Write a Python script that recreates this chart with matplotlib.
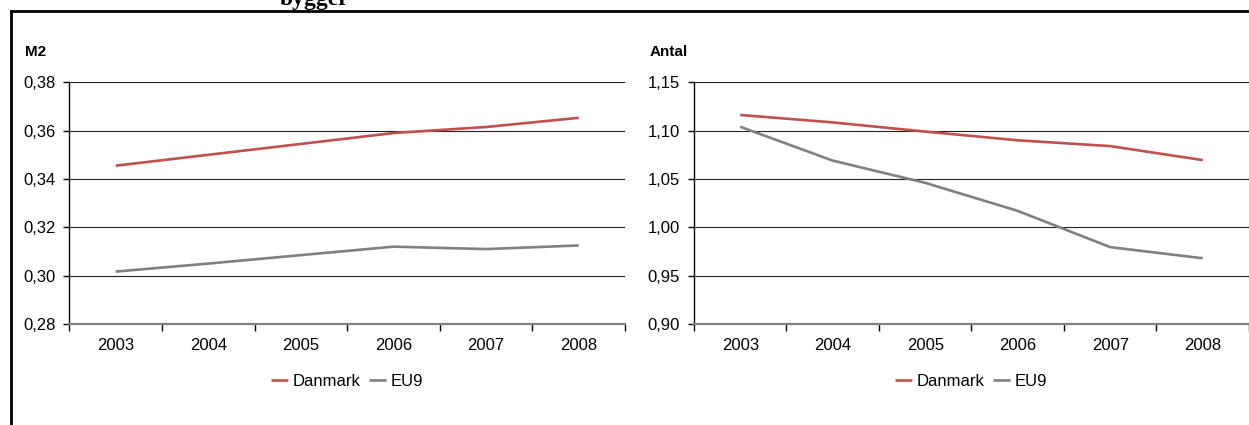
import matplotlib.pyplot as plt
from matplotlib.lines import Line2D
from matplotlib.ticker import FuncFormatter

plt.rcParams['font.family'] = ['Liberation Sans', 'DejaVu Sans']

years = ['2003', '2004', '2005', '2006', '2007', '2008']

# m2 per person
m2_danmark = [0.3455, 0.3500, 0.3545, 0.3590, 0.3615, 0.3653]
m2_eu9 = [0.3017, 0.3050, 0.3085, 0.3120, 0.3110, 0.3125]

# antal per person
antal_danmark = [1.1162, 1.1085, 1.0990, 1.0900, 1.0840, 1.0695]
antal_eu9 = [1.1040, 1.0690, 1.0460, 1.0170, 0.9795, 0.9680]

red = '#C0504D'
grey = '#808080'

fig = plt.figure(figsize=(12.49, 4.25), dpi=100)


def comma(v, pos):
    return f'{v:.2f}'.replace('.', ',')


def draw(ax, dk, eu, ylim, step, unit):
    x = range(len(years))
    ax.plot(x, dk, color=red, lw=1.9, label='Danmark', solid_capstyle='butt')
    ax.plot(x, eu, color=grey, lw=1.9, label='EU9', solid_capstyle='butt')
    ax.set_xlim(-0.5, len(years) - 0.5)
    ax.set_ylim(*ylim)
    n = round((ylim[1] - ylim[0]) / step)
    ax.set_yticks([ylim[0] + i * step for i in range(n + 1)])
    ax.yaxis.set_major_formatter(FuncFormatter(comma))
    ax.grid(axis='y', color='#222222', lw=0.8)
    ax.set_axisbelow(True)
    # boundary ticks between categories, labels centred on categories
    ax.set_xticks([i - 0.5 for i in range(len(years) + 1)])
    ax.set_xticklabels([])
    ax.set_xticks(list(x), minor=True)
    ax.set_xticklabels(years, minor=True)
    ax.tick_params(axis='x', which='major', direction='out', length=5, width=1, color='black')
    ax.tick_params(axis='x', which='minor', length=0, pad=10, labelsize=12)
    ax.tick_params(axis='y', direction='out', length=4, width=1, pad=6, labelsize=12)
    for s in ('top', 'right'):
        ax.spines[s].set_visible(False)
    ax.spines['left'].set_linewidth(1)
    ax.spines['bottom'].set_color(grey)
    ax.spines['bottom'].set_linewidth(1.6)
    ax.text(-0.08, 1.125, unit, transform=ax.transAxes, fontsize=11,
            fontweight='bold', ha='left', va='center')
    ax.legend(loc='center', bbox_to_anchor=(0.5, -0.236), ncol=2, frameon=False,
              fontsize=12, handlelength=1.0, handletextpad=0.3, columnspacing=0.5)


ax1 = fig.add_axes([0.0556, 0.2376, 0.4448, 0.5688])
draw(ax1, m2_danmark, m2_eu9, (0.28, 0.38), 0.02, 'M2')

ax2 = fig.add_axes([0.5556, 0.2376, 0.4444, 0.5688])
draw(ax2, antal_danmark, antal_eu9, (0.90, 1.15), 0.05, 'Antal')

# heading running off the top edge
fig.text(0.224, 1 - 5 / 425, 'bygger', fontsize=17, fontweight='bold',
         family=['Liberation Serif', 'DejaVu Serif'], ha='left', va='baseline')

# frame lines
fig.add_artist(Line2D([10.5 / 1249, 1], [1 - 11 / 425, 1 - 11 / 425],
                      transform=fig.transFigure, color='black', lw=2))
fig.add_artist(Line2D([10.5 / 1249, 10.5 / 1249], [0, 1 - 11 / 425],
                      transform=fig.transFigure, color='black', lw=2))

fig.savefig('out.png', dpi=100)
